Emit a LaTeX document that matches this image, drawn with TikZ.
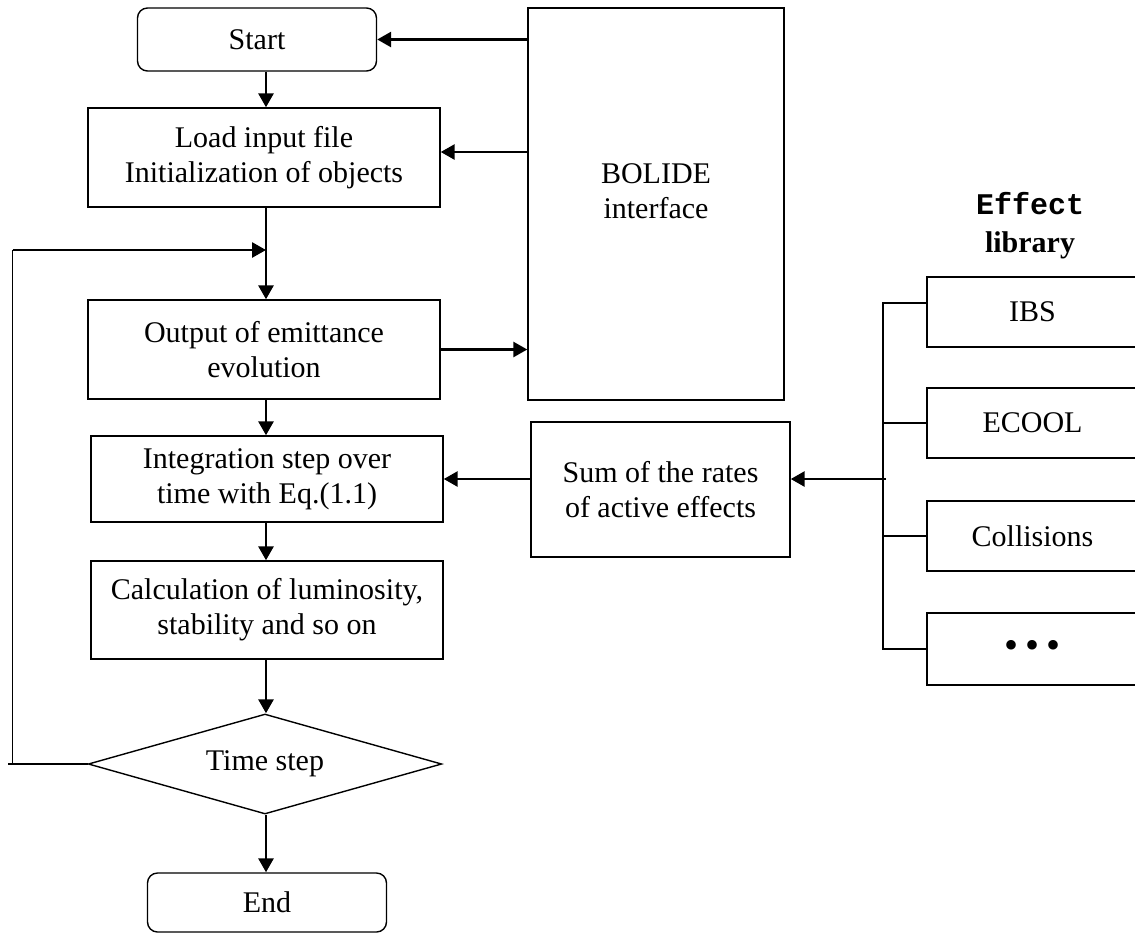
\documentclass[tikz,border=0pt]{standalone}
\usepackage{fontspec}
\setmainfont{Liberation Serif}
\setmonofont{Liberation Mono}
\usetikzlibrary{arrows.meta,shapes.geometric}

\tikzset{
  box/.style={draw, line width=0.7pt, align=center, inner sep=0pt, minimum width=176pt},
  rbox/.style={draw, line width=0.7pt, rounded corners=5pt, inner sep=0pt, minimum width=119.5pt},
  dia/.style={draw, line width=0.7pt, diamond, shape aspect=3.5, inner sep=0pt, minimum width=176.75pt, minimum height=50pt},
  lib/.style={draw, line width=0.7pt, inner sep=0pt, minimum width=105.5pt},
  flow/.style={line width=1.4pt},
  thin line/.style={line width=0.7pt}
}

\begin{document}
\begin{tikzpicture}[x=0.5pt, y=-0.5pt, >={Triangle[length=7pt,width=7.5pt]}, font=\fontsize{15}{17.5}\selectfont]
    \useasboundingbox (0,0) rectangle (1135,934);
    \node[rbox, minimum height=31.5pt] (0) at (257, 39.5) {Start};
    \node[box, minimum height=49.5pt] (1) at (264, 157.5) {Load input file\\Initialization of objects};
    \node[box, minimum height=49.5pt] (2) at (264, 349.5) {Output of emittance\\evolution};
    \node[box, minimum height=43pt] (3) at (267, 479) {Integration step over\\time with Eq.(1.1)};
    \node[box, minimum height=49pt] (4) at (267, 610) {Calculation of luminosity,\\stability and so on};
    \node[dia] (5) at (265, 764) {Time step};
    \node[rbox, minimum height=29.5pt] (6) at (267, 902.5) {End};
    \node[box, minimum width=128pt, minimum height=196pt] (7) at (656, 204) {BOLIDE\\interface\\[-4.5pt]};
    \node[box, minimum width=129.5pt, minimum height=67.5pt] (8) at (660.5, 489.5) {Sum of the rates\\of active effects};
    \node[lib, minimum height=35pt] (9) at (1032.5, 312) {IBS};
    \node[lib, minimum height=35pt] (10) at (1032.5, 423) {ECOOL};
    \node[lib, minimum height=35pt] (11) at (1032.5, 536) {Collisions};
    \node[lib, minimum height=36pt] (12) at (1032.5, 649) {\fontsize{20}{20}\selectfont\textbullet\,\textbullet\,\textbullet};
    \node[align=center, font=\fontsize{15}{19}\selectfont\bfseries] (16) at (1030, 226) {\texttt{Effect}\\library};
    \coordinate (13) at (883, 479);
    \coordinate (14) at (266, 250);
    \coordinate (15) at (12.5, 764);
    % main flow
    \draw [flow, ->] (0.south -| 14) to (1.north -| 14);
    \draw [flow, ->] (1.south -| 14) to (2.north -| 14);
    \draw [flow, ->] (2.south -| 14) to (3.north -| 14);
    \draw [flow, ->] (3.south -| 14) to (4.north -| 14);
    \draw [flow, ->] (4.south -| 14) to (5.north -| 14);
    \draw [flow, ->] (5.south -| 14) to (6.north -| 14);
    % loop back
    \draw [thin line] (5.west) to ([xshift=-2.25pt]15);
    \draw [thin line] (15) to (15 |- 14);
    \draw [flow, ->] (15 |- 14) to (14);
    % BOLIDE interface
    \draw [flow, ->] (7.west |- 0.east) to (0.east);
    \draw [flow, ->] ([yshift=2.75pt]7.west |- 1.east) to ([yshift=2.75pt]1.east);
    \draw [flow, ->] (2.east) to (2.east -| 7.west);
    % effect library
    \draw [thin line] ([yshift=4.5pt]9.west) -| (13) |- (12.west);
    \draw [thin line] (10.west) to (10.west -| 13);
    \draw [thin line] (11.west) to (11.west -| 13);
    \draw [flow, ->] ([xshift=1.5pt]13) to (8.east |- 13);
    \draw [flow, ->] (8.west |- 3.east) to (3.east);
\end{tikzpicture}
\end{document}
